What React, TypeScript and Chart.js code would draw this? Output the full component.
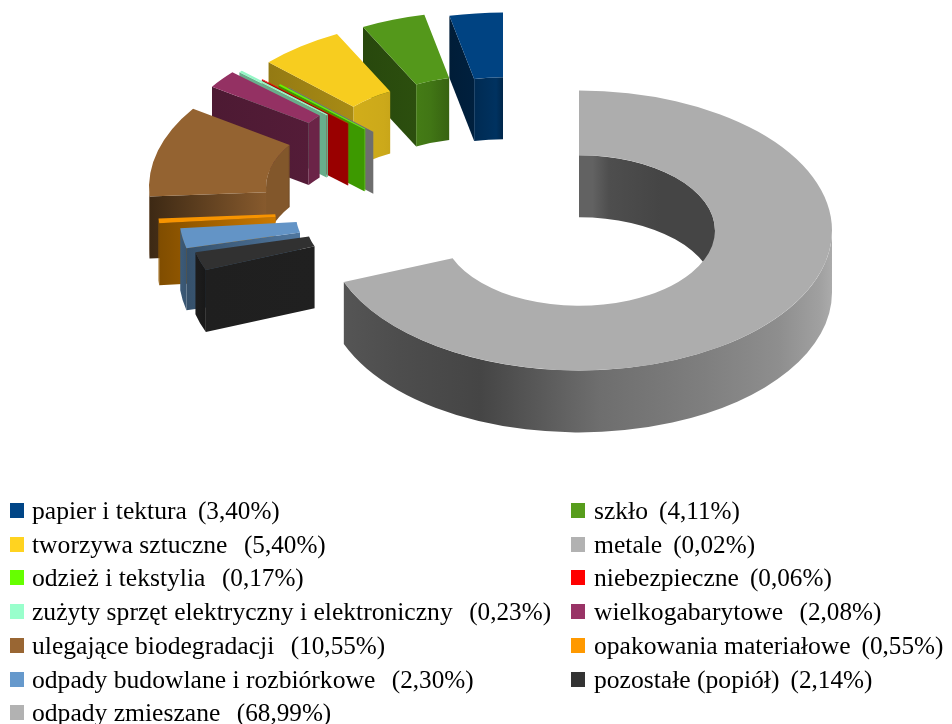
import React, { useEffect, useRef } from "react";
import { Chart, registerables } from "chart.js";

Chart.register(...registerables);

// Data, in legend order
const categories = [
  "papier i tektura", "szkło", "tworzywa sztuczne", "metale", "odzież i tekstylia",
  "niebezpieczne", "zużyty sprzęt elektryczny i elektroniczny", "wielkogabarytowe",
  "ulegające biodegradacji", "opakowania materiałowe", "odpady budowlane i rozbiórkowe",
  "pozostałe (popiół)", "odpady zmieszane",
];
const shares = [3.4, 4.11, 5.4, 0.02, 0.17, 0.06, 0.23, 2.08, 10.55, 0.55, 2.3, 2.14, 68.99];
const shareLabels = ["3,40%", "4,11%", "5,40%", "0,02%", "0,17%", "0,06%", "0,23%", "2,08%", "10,55%", "0,55%", "2,30%", "2,14%", "68,99%"];
const labelGaps = [2, 2, 3, 2, 3, 2, 3, 3, 3, 2, 3, 2, 3];
const colors = ["#004586", "#579d1c", "#ffd320", "#b2b2b2", "#66ff00", "#ff0000", "#99ffcc", "#993366", "#996633", "#ff9900", "#6699cc", "#333333", "#b2b2b2"];

// 3D look: explosion of every slice from the main centre, shade of its cut face (outer end, inner end)
const explode = [[-76, -78], [-101, -79], [-127, -72], [-107, -47], [-115, -50], [-131, -56], [-151, -65], [-158, -65], [-177, -43], [-168, -21], [-147, -16], [-138, -12], [0, 0]];
const cutShade = [[0.42, 0.46], [0.46, 0.5], [0.58, 0.66], [0.62, 0.62], [0.6, 0.6], [0.6, 0.6], [0.68, 0.68], [0.5, 0.55], [0.4, 0.88], [0.5, 0.8], [0.52, 0.78], [0.6, 0.62], [0.5, 0.5]];
const outerShade = [[-1, 0.6], [-0.95, 0.52], [-0.93, 0.48], [-0.71, 0.43], [-0.39, 0.39], [-0.155, 0.5], [0.08, 0.62], [0.48, 0.71], [0.79, 0.8], [0.95, 0.9], [1, 0.96]];
const innerShade = [[-1, 0.85], [-0.84, 0.85], [-0.82, 0.7], [-0.74, 0.7], [-0.72, 0.82], [-0.5, 0.8], [-0.35, 0.75], [-0.2, 0.62], [-0.05, 0.72], [0, 0.55], [0.1, 0.55], [0.22, 0.44], [0.6, 0.39], [1, 0.39]];
const SQUASH = 0.553;
const DEPTH = 62;
const TOP_LIGHT = 0.97;

const shade = (hex: string, f: number) => {
  const n = parseInt(hex.slice(1), 16);
  const c = (v: number) => Math.min(255, Math.round(v * f));
  return `rgb(${c((n >> 16) & 255)},${c((n >> 8) & 255)},${c(n & 255)})`;
};

const extrudePlugin = {
  id: "extrude",
  beforeDatasetDraw(chart: any) {
    const ctx: CanvasRenderingContext2D = chart.ctx;
    const arcs = chart.getDatasetMeta(0).data;
    const n = categories.length;
    categories.forEach((_, li) => {
      const arc = arcs[n - 1 - li];
      const { x, y, startAngle: s, endAngle: e, innerRadius: ri, outerRadius: ro } = arc.getProps(
        ["x", "y", "startAngle", "endAngle", "innerRadius", "outerRadius"], true);
      const cx = x + explode[li][0];
      const cy = y + explode[li][1];
      const col = colors[li];
      const pt = (r: number, a: number): [number, number] => [cx + r * Math.cos(a), cy + r * Math.sin(a) * SQUASH];

      // cut face at the start of the slice (faces the viewer on the left half)
      if (-Math.cos(s) > 0.001) {
        const a = pt(ro, s), b = pt(ri, s);
        const g = ctx.createLinearGradient(a[0], 0, b[0], 0);
        g.addColorStop(0, shade(col, cutShade[li][0]));
        g.addColorStop(1, shade(col, cutShade[li][1]));
        ctx.fillStyle = g;
        ctx.beginPath();
        ctx.moveTo(a[0], a[1]);
        ctx.lineTo(b[0], b[1]);
        ctx.lineTo(b[0], b[1] + DEPTH);
        ctx.lineTo(a[0], a[1] + DEPTH);
        ctx.closePath();
        ctx.fill();
      }

      const wall = (r: number, from: number, to: number, stops: number[][]) => {
        const a0 = Math.max(s, from), a1 = Math.min(e, to);
        if (a1 <= a0) return;
        const g = ctx.createLinearGradient(cx - r, 0, cx + r, 0);
        stops.forEach(([u, f]) => g.addColorStop((u + 1) / 2, shade(col, f)));
        ctx.fillStyle = g;
        ctx.beginPath();
        ctx.ellipse(cx, cy, r, r * SQUASH, 0, a0, a1, false);
        ctx.ellipse(cx, cy + DEPTH, r, r * SQUASH, 0, a1, a0, true);
        ctx.closePath();
        ctx.fill();
      };
      // inner wall: far half of the hole; outer wall: near half of the rim
      wall(ri, -Math.PI / 2, 0, innerShade);
      wall(ri, Math.PI, 1.5 * Math.PI, innerShade);
      wall(ro, 0, Math.PI, outerShade);

      // top face, drawn by the library's own arc element
      ctx.save();
      ctx.translate(cx, cy);
      ctx.scale(1, SQUASH);
      ctx.translate(-x, -y);
      arc.draw(ctx);
      ctx.restore();
    });
    return false;
  },
};

const FONT = '"Liberation Serif", "Times New Roman", serif';
const ROW0 = 511;
const ROW_STEP = 33.7;
const COLS = [{ box: 10, text: 32 }, { box: 571, text: 594 }];

export default function App() {
  const ref = useRef<HTMLCanvasElement>(null);
  useEffect(() => {
    const chart = new Chart(ref.current!, {
      type: "doughnut",
      data: {
        labels: [...categories].reverse(),
        datasets: [{
          data: [...shares].reverse(),
          backgroundColor: [...colors].reverse().map((c) => shade(c, TOP_LIGHT)),
          borderWidth: 0,
        }],
      },
      options: {
        responsive: false,
        animation: false,
        radius: 253,
        cutout: "53.75%",
        layout: { padding: { left: 206, bottom: 263 } },
        plugins: { legend: { display: false }, tooltip: { enabled: false } },
      },
      plugins: [extrudePlugin],
    } as any);
    return () => chart.destroy();
  }, []);

  return (
    <div style={{ position: "absolute", left: 0, top: 0, width: 952, height: 724, overflow: "hidden", background: "#fff" }}>
      <canvas ref={ref} width={952} height={724} style={{ position: "absolute", left: 0, top: 0 }} />
      {categories.map((c, i) => {
        const col = COLS[i % 2];
        const yc = ROW0 + ROW_STEP * Math.floor(i / 2);
        return (
          <React.Fragment key={c}>
            <div style={{ position: "absolute", left: col.box, top: yc - 8, width: 14, height: 15, background: colors[i] }} />
            <div style={{ position: "absolute", left: col.text, top: yc - 16, height: 32, lineHeight: "32px", fontFamily: FONT, fontSize: 25.6, color: "#000", whiteSpace: "pre" }}>
              {c}
              <span style={{ fontSize: 22 }}>{" ".repeat(labelGaps[i])}</span>
              <span style={{ fontSize: 25.2 }}>{"(" + shareLabels[i] + ")"}</span>
            </div>
          </React.Fragment>
        );
      })}
    </div>
  );
}
